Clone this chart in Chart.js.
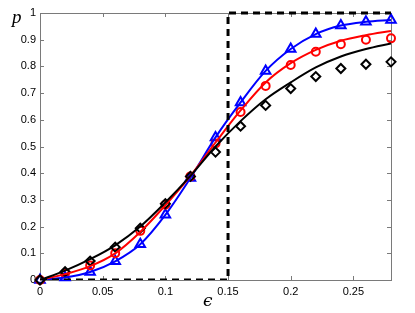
<!DOCTYPE html>
<html><head><meta charset="utf-8">
<script src="https://cdn.jsdelivr.net/npm/chart.js@4"></script>
<style>html,body{margin:0;padding:0;background:#fff}#c{display:block}</style>
</head><body>
<canvas id="c" width="415" height="313"></canvas>
<script>
const eps = [0,0.02,0.04,0.06,0.08,0.10,0.12,0.14,0.16,0.18,0.20,0.22,0.24,0.26,0.28];
const blueMarks = [0,0.009,0.03,0.07,0.134,0.244,0.382,0.534,0.665,0.783,0.865,0.921,0.953,0.967,0.974];
const blueLine  = [0,0.009,0.03,0.07,0.134,0.244,0.382,0.534,0.665,0.783,0.865,0.921,0.953,0.967,0.974];
const redMarks  = [0,0.025,0.054,0.10,0.184,0.282,0.388,0.511,0.629,0.727,0.805,0.855,0.883,0.90,0.905];
const redLine   = [0,0.022,0.052,0.10,0.18,0.28,0.39,0.515,0.635,0.74,0.812,0.862,0.896,0.917,0.933];
const blackMarks= [0,0.031,0.071,0.123,0.194,0.286,0.388,0.479,0.576,0.654,0.717,0.762,0.792,0.808,0.817];
const blackLine = [0,0.035,0.078,0.13,0.2,0.29,0.39,0.50,0.595,0.677,0.74,0.796,0.837,0.865,0.886];
const stepX = [0,0.15,0.15,0.28];
const stepY = [0,0,1,1];
const xTicks = [0,0.05,0.1,0.15,0.2,0.25];
const yTicks = [0,0.1,0.2,0.3,0.4,0.5,0.6,0.7,0.8,0.9,1];

const pts = (xs, ys) => xs.map((x,i)=>({x, y: ys[i]}));
const lineDs = (ys, color) => ({data: pts(eps, ys), showLine: true, borderColor: color, borderWidth: 2,
  pointRadius: 0, cubicInterpolationMode: 'monotone', fill: false});
const markDs = (ys, color, style, r) => ({data: pts(eps, ys), showLine: false, borderColor: color,
  backgroundColor: 'rgba(0,0,0,0)', pointStyle: style, pointRadius: r, pointBorderWidth: 2, clip: false});

const frame = {
  id: 'frame',
  beforeDatasetsDraw(chart) {
    const {ctx, chartArea: a, scales: {x, y}} = chart;
    ctx.save();
    ctx.strokeStyle = '#7a7a7a';
    ctx.lineWidth = 1;
    ctx.strokeRect(a.left + 0.5, a.top + 0.5, a.right - a.left, a.bottom - a.top);
    ctx.beginPath();
    xTicks.forEach(v => { const px = Math.round(x.getPixelForValue(v)) + 0.5;
      ctx.moveTo(px, a.bottom); ctx.lineTo(px, a.bottom - 4);
      ctx.moveTo(px, a.top); ctx.lineTo(px, a.top + 4); });
    yTicks.forEach(v => { const py = Math.round(y.getPixelForValue(v)) + 0.5;
      ctx.moveTo(a.left, py); ctx.lineTo(a.left + 4, py);
      ctx.moveTo(a.right, py); ctx.lineTo(a.right - 4, py); });
    ctx.stroke();
    ctx.restore();
  },
  afterDraw(chart) {
    const {ctx} = chart;
    ctx.save();
    ctx.fillStyle = '#000';
    ctx.font = 'italic 19px "Liberation Serif", "DejaVu Serif", serif';
    ctx.textAlign = 'left'; ctx.textBaseline = 'alphabetic';
    ctx.fillText('p', 12, 23);
    ctx.font = 'italic 17px "DejaVu Serif", "Liberation Serif", serif';
    ctx.fillText('\u03F5', 203, 306);
    ctx.restore();
  }
};

new Chart(document.getElementById('c'), {
  type: 'scatter',
  data: { datasets: [
    {data: pts(stepX, stepY), showLine: true, borderColor: '#000', borderWidth: 3, borderDash: [7,5],
     pointRadius: 0, tension: 0, clip: {left: 2, top: 2, right: 2, bottom: 0}},
    lineDs(blackLine, '#000'),
    lineDs(redLine, '#ff0000'),
    lineDs(blueLine, '#0000ff'),
    markDs(blackMarks, '#000', 'rectRot', 4.5),
    markDs(redMarks, '#ff0000', 'circle', 4),
    markDs(blueMarks, '#0000ff', 'triangle', 5.5)
  ]},
  options: {
    responsive: false, animation: false, devicePixelRatio: 1,
    layout: {padding: {left: 0, right: 24, top: 13, bottom: 0}},
    plugins: {legend: {display: false}, tooltip: {enabled: false}},
    scales: {
      x: {type: 'linear', min: 0, max: 0.28,
        afterBuildTicks: s => { s.ticks = xTicks.map(v => ({value: v})); },
        afterFit: s => { s.height = 33; },
        grid: {display: false, drawTicks: false}, border: {display: false},
        ticks: {padding: 5, color: '#000', maxRotation: 0, autoSkip: false,
          font: {family: '"Liberation Sans", Arial, sans-serif', size: 11},
          callback: v => String(+v.toFixed(2))}},
      y: {type: 'linear', min: 0, max: 1,
        afterBuildTicks: s => { s.ticks = yTicks.map(v => ({value: v})); },
        afterFit: s => { s.width = 40; },
        grid: {display: false, drawTicks: false}, border: {display: false},
        ticks: {padding: 4, color: '#000', autoSkip: false,
          font: {family: '"Liberation Sans", Arial, sans-serif', size: 11},
          callback: v => String(+v.toFixed(2))}}
    }
  },
  plugins: [frame]
});
</script>
</body></html>
